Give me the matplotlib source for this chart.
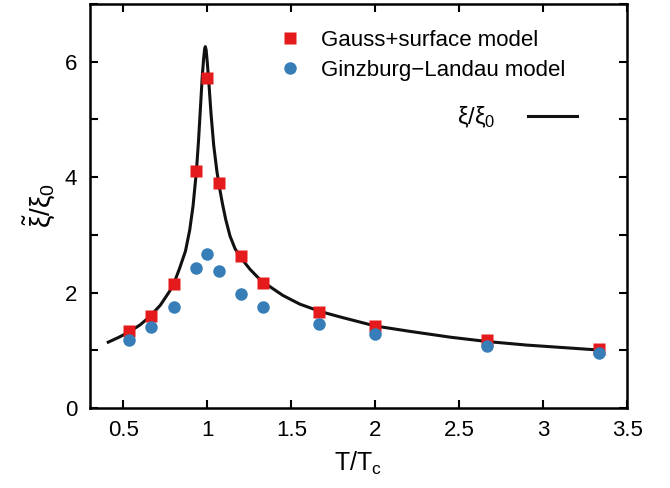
import matplotlib
matplotlib.use("Agg")
import matplotlib.pyplot as plt
from matplotlib.ticker import MultipleLocator

plt.rcParams['font.family'] = ['Liberation Sans', 'DejaVu Sans']
plt.rcParams['mathtext.fontset'] = 'custom'
plt.rcParams['mathtext.rm'] = 'Liberation Sans'
plt.rcParams['mathtext.it'] = 'Liberation Sans'
plt.rcParams['mathtext.bf'] = 'Liberation Sans:bold'

# reduced temperatures of the simulated points
t_points = [0.533, 0.667, 0.8, 0.933, 1.0, 1.067, 1.2, 1.333, 1.667, 2.0, 2.667, 3.333]
gauss_surface = [1.34, 1.60, 2.15, 4.10, 5.72, 3.89, 2.63, 2.16, 1.66, 1.42, 1.17, 1.02]
ginzburg_landau = [1.18, 1.40, 1.75, 2.42, 2.67, 2.38, 1.97, 1.75, 1.45, 1.28, 1.08, 0.95]

# correlation length curve xi/xi0
t_curve = [0.41, 0.47, 0.536, 0.6, 0.656, 0.72, 0.775, 0.80, 0.835, 0.87, 0.895,
           0.915, 0.935, 0.948, 0.96, 0.97, 0.978, 0.984, 0.988, 0.993, 1.0,
           1.01, 1.022, 1.038, 1.057, 1.07, 1.09, 1.11, 1.135, 1.165, 1.2, 1.255,
           1.315, 1.338, 1.45, 1.55, 1.674, 1.8, 2.0, 2.2, 2.45, 2.67, 2.9, 3.1, 3.35]
xi_curve = [1.14, 1.22, 1.32, 1.44, 1.58, 1.78, 2.02, 2.15, 2.42, 2.72, 3.08,
            3.5, 4.1, 4.65, 5.25, 5.75, 6.05, 6.22, 6.26, 6.2, 5.98,
            5.6, 5.1, 4.55, 4.1, 3.86, 3.54, 3.26, 2.98, 2.76, 2.6, 2.4,
            2.22, 2.17, 1.95, 1.8, 1.67, 1.57, 1.42, 1.33, 1.225, 1.15, 1.09, 1.05, 1.0]

fig = plt.figure(figsize=(6.70, 4.88), dpi=100)
ax = fig.add_axes([0.134, 0.164, 0.802, 0.828])

line, = ax.plot(t_curve, xi_curve, color='#111111', lw=2.2, zorder=2,
                solid_joinstyle='round')
sq, = ax.plot(t_points, gauss_surface, 's', color='#e41a1c', ms=9, mec='none', zorder=3)
ci, = ax.plot(t_points, ginzburg_landau, 'o', color='#377eb8', ms=9, mec='none', zorder=4)

ax.set_xlim(0.3, 3.5)
ax.set_ylim(0, 7)
ax.xaxis.set_major_locator(MultipleLocator(0.5))
ax.yaxis.set_major_locator(MultipleLocator(2))
ax.yaxis.set_minor_locator(MultipleLocator(1))
ax.xaxis.set_major_formatter(plt.FuncFormatter(lambda v, p: '%g' % v))
ax.tick_params(which='both', direction='in', top=True, right=True,
               length=6, width=1.5, labelsize=16, pad=9)
for s in ax.spines.values():
    s.set_linewidth(1.8)

ax.set_xlabel(r'T/T$_{\rm c}$', fontsize=18, labelpad=6)
ax.set_ylabel(r'$\tilde{\xi}/\xi_0$', fontsize=20, labelpad=6)

leg1 = ax.legend([sq, ci], ['Gauss+surface model', 'Ginzburg\u2212Landau model'],
                 loc='center left', bbox_to_anchor=(0.352, 0.8725), frameon=False,
                 fontsize=16, handlelength=1.0, handletextpad=0.9, labelspacing=0.42,
                 borderpad=0, borderaxespad=0, numpoints=1)
ax.add_artist(leg1)
ax.legend([line], [r'$\xi/\xi_0$'], loc='center right', bbox_to_anchor=(0.907, 0.72),
          frameon=False, fontsize=17, handlelength=2.1, handletextpad=1.35,
          markerfirst=False, borderpad=0, borderaxespad=0)

fig.savefig('out.png', dpi=100)
